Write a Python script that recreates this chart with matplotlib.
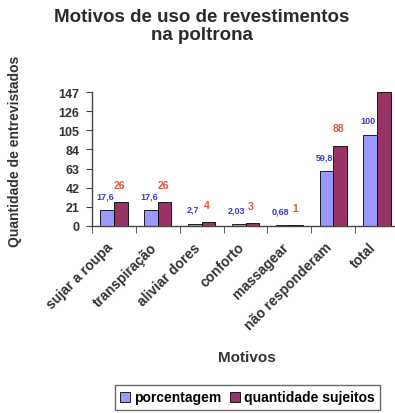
import matplotlib
matplotlib.use('Agg')
import matplotlib.pyplot as plt
import numpy as np

# dados do gráfico
motivos = ['sujar a roupa', 'transpiração', 'aliviar dores', 'conforto',
           'massagear', 'não responderam', 'total']
porcentagem = [17.6, 17.6, 2.7, 2.03, 0.68, 59.8, 100]
quantidade = [26, 26, 4, 3, 1, 88, 147]
rotulos_pct = ['17,6', '17,6', '2,7', '2,03', '0,68', '59,8', '100']
rotulos_qtd = ['26', '26', '4', '3', '1', '88', '']
yticks = [0, 21, 42, 63, 84, 105, 126, 147]

plt.rcParams['font.family'] = ['Liberation Sans', 'DejaVu Sans']

fig = plt.figure(figsize=(3.95, 4.14), dpi=100)
ax = fig.add_axes([92 / 395, 187 / 414, 307 / 395, 134 / 414])

x = np.arange(len(motivos))
w = 0.31
ax.bar(x - w / 2, porcentagem, w, color='#9999FF', edgecolor='black',
       linewidth=0.6, label='porcentagem', zorder=2)
ax.bar(x + w / 2, quantidade, w, color='#993366', edgecolor='black',
       linewidth=0.6, label='quantidade sujeitos', zorder=4)

# rótulos de dados
for i in range(len(motivos)):
    ax.annotate(rotulos_pct[i], (x[i] - w / 2, porcentagem[i]),
                xytext=(-1.5, 7), textcoords='offset points', ha='center',
                va='bottom', fontsize=6.5, color='#3a3acc', fontweight='bold',
                zorder=3)
    if rotulos_qtd[i]:
        ax.annotate(rotulos_qtd[i], (x[i] + w / 2, quantidade[i]),
                    xytext=(-1, 9), textcoords='offset points', ha='center',
                    va='bottom', fontsize=7.5, color='#e0553a',
                    fontweight='bold', zorder=5)

ax.set_xlim(-0.5, len(motivos) - 0.5)
ax.set_ylim(0, 147)
ax.set_yticks(yticks)
ax.set_yticklabels([str(v) for v in yticks], fontsize=9, fontweight='bold',
                   color='#333333')

# rótulos das categorias, inclinados, um pouco à esquerda do centro
ax.set_xticks(x)
ax.set_xticklabels([])
for i, nome in enumerate(motivos):
    ax.annotate(nome, (x[i], 0), xycoords=ax.get_xaxis_transform(),
                xytext=(-6, -10), textcoords='offset points', rotation=45,
                ha='right', va='top', rotation_mode='anchor', fontsize=10,
                fontweight='bold', color='#333333', annotation_clip=False)
ax.set_xticks(np.arange(-0.5, len(motivos)), minor=True)
ax.tick_params(axis='x', which='major', length=0)
ax.tick_params(axis='x', which='minor', length=5, direction='out',
               color='#444444')
ax.tick_params(axis='y', length=4, direction='out', color='#444444', pad=5)

for s in ['top', 'right']:
    ax.spines[s].set_visible(False)
for s in ['left', 'bottom']:
    ax.spines[s].set_color('#444444')
    ax.spines[s].set_linewidth(1.0)

fig.text(0.51, 1 - 9 / 414, 'Motivos de uso de revestimentos\nna poltrona',
         ha='center', va='top', fontsize=13.5, fontweight='bold',
         color='#2a2a2a', linespacing=1.05)
fig.text(15 / 395, 1 - 151 / 414, 'Quantidade de entrevistados', rotation=90,
         ha='center', va='center', fontsize=10, fontweight='bold',
         color='#333333')
fig.text(247 / 395, 1 - 358 / 414, 'Motivos', ha='center', va='center',
         fontsize=11, fontweight='bold', color='#333333')

fig.legend(loc='center', bbox_to_anchor=(247.5 / 395, 1 - 398.5 / 414),
           ncol=2, frameon=True, fancybox=False,
           prop={'size': 10, 'weight': 'bold'},
           edgecolor='#444444', handlelength=0.7, handleheight=0.7,
           handletextpad=0.3, columnspacing=0.6, borderpad=0.4)

fig.savefig('out.png', dpi=100, facecolor='white')
